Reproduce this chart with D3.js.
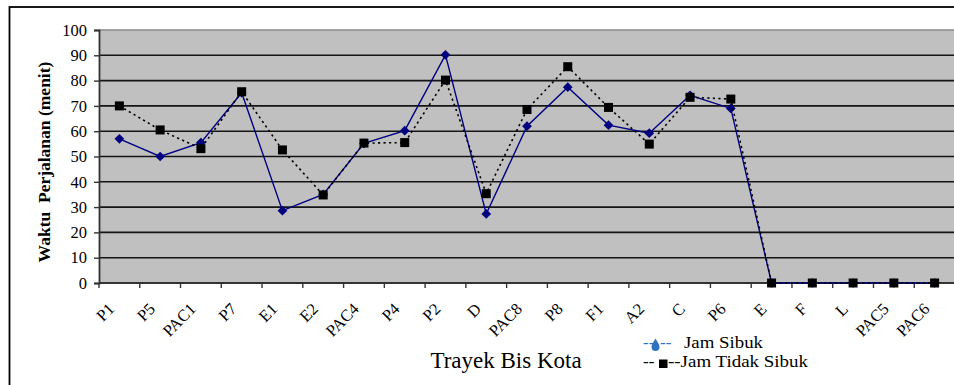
<!DOCTYPE html>
<html>
<head>
<meta charset="utf-8">
<script src="https://cdn.jsdelivr.net/npm/d3@7"></script>
<style>
  html, body { margin: 0; padding: 0; background: #fff; }
  svg { display: block; }
  text { font-family: "Liberation Serif", "Times New Roman", serif; }
</style>
</head>
<body>
<script>
const categories = ["P1","P5","PAC1","P7","E1","E2","PAC4","P4","P2","D","PAC8","P8","F1","A2","C","P6","E","F","L","PAC5","PAC6"];
const jamSibuk = [57, 50, 55.5, 75.2, 28.6, 35, 55.2, 60.2, 90.2, 27.3, 62, 77.4, 62.4, 59.2, 74.2, 69, 0, 0, 0, 0, 0];
const jamTidakSibuk = [70, 60.5, 53.1, 75.6, 52.6, 34.8, 55.3, 55.5, 80.2, 35.3, 68.6, 85.5, 69.4, 54.9, 73.4, 72.7, 0, 0, 0, 0, 0];
const yTicks = [0, 10, 20, 30, 40, 50, 60, 70, 80, 90, 100];
const seriesNames = ["Jam Sibuk", "Jam Tidak Sibuk"];
const xTitle = "Trayek Bis Kota";
const yTitle = "Waktu  Perjalanan (menit)";

const W = 954, H = 385;
const plot = { left: 99, right: 955, top: 30, bottom: 283 };

const svg = d3.select("body").append("svg").attr("width", W).attr("height", H);

// outer frame
svg.append("rect").attr("x", 9.5).attr("y", 7).attr("width", W + 20).attr("height", H + 20)
  .attr("fill", "#fff").attr("stroke", "#000").attr("stroke-width", 1.8);

const x = d3.scaleBand().domain(categories).range([plot.left, plot.right]).padding(0);
const y = d3.scaleLinear().domain([0, 100]).range([plot.bottom, plot.top]);
const cx = d => x(d) + x.bandwidth() / 2;

// plot background
svg.append("rect").attr("x", plot.left).attr("y", plot.top)
  .attr("width", plot.right - plot.left).attr("height", plot.bottom - plot.top)
  .attr("fill", "#c0c0c0");

// top border of plot
svg.append("line").attr("x1", plot.left).attr("x2", plot.right)
  .attr("y1", y(100)).attr("y2", y(100)).attr("stroke", "#8a8a8a").attr("stroke-width", 1.6);

// gridlines
svg.append("g").selectAll("line").data(yTicks.filter(t => t > 0 && t < 100)).join("line")
  .attr("x1", plot.left).attr("x2", plot.right)
  .attr("y1", d => y(d)).attr("y2", d => y(d))
  .attr("stroke", "#151515").attr("stroke-width", 1.6);

// y axis
const yAxis = d3.axisLeft(y).tickValues(yTicks).tickSize(5).tickPadding(7).tickFormat(d3.format("d"));
const gy = svg.append("g").attr("transform", `translate(${plot.left},0)`).call(yAxis);
gy.attr("font-family", null);
gy.select(".domain").attr("stroke", "#333").attr("stroke-width", 1.8);
gy.selectAll(".tick line").attr("stroke", "#333").attr("stroke-width", 1.4);
gy.selectAll(".tick text").attr("font-size", 16.5).attr("fill", "#000");

// x axis: ticks at category boundaries
const boundaries = categories.map(c => x(c)).concat([plot.right]);
svg.append("line").attr("x1", plot.left).attr("x2", plot.right)
  .attr("y1", plot.bottom).attr("y2", plot.bottom).attr("stroke", "#333").attr("stroke-width", 1.8);
svg.append("g").selectAll("line").data(boundaries).join("line")
  .attr("x1", d => d).attr("x2", d => d).attr("y1", plot.bottom).attr("y2", plot.bottom + 5)
  .attr("stroke", "#333").attr("stroke-width", 1.4);

// category labels rotated -45deg, anchored at their end
const labelY = plot.bottom + 27;
const xl = svg.append("g").selectAll("g").data(categories).join("g")
  .attr("transform", d => `translate(${cx(d) - 4},${labelY})`);
xl.append("text")
  .attr("transform", "rotate(-45)")
  .attr("text-anchor", "end")
  .attr("font-size", 16.5)
  .attr("fill", "#000")
  .text(d => d);

// series lines
const line = d3.line().x((d, i) => cx(categories[i])).y(d => y(d));

svg.append("path").datum(jamSibuk).attr("d", line)
  .attr("fill", "none").attr("stroke", "#000080").attr("stroke-width", 1.4);

svg.append("g").selectAll("path").data(jamSibuk).join("path")
  .attr("transform", (d, i) => `translate(${cx(categories[i])},${y(d)})`)
  .attr("d", d3.symbol(d3.symbolDiamond2, 60)())
  .attr("fill", "#000080");

svg.append("path").datum(jamTidakSibuk).attr("d", line)
  .attr("fill", "none").attr("stroke", "#000").attr("stroke-width", 1.6)
  .attr("stroke-dasharray", "2.2,3.3");

svg.append("g").selectAll("rect").data(jamTidakSibuk).join("rect")
  .attr("x", (d, i) => cx(categories[i]) - 4.5)
  .attr("y", d => y(d) - 4.5)
  .attr("width", 9).attr("height", 9)
  .attr("fill", "#000");

// axis titles
svg.append("text").attr("x", 506).attr("y", 368).attr("text-anchor", "middle")
  .attr("font-size", 23).attr("fill", "#000").text(xTitle);

svg.append("text").attr("x", 0).attr("y", 0)
  .attr("transform", "translate(50,162) rotate(-90)")
  .attr("text-anchor", "middle").attr("font-size", 17.5).attr("font-weight", "bold")
  .attr("fill", "#000").style("white-space", "pre").text(yTitle);

// legend
const blue = "#2f73bd";
const lg = svg.append("g").attr("font-size", 17);
// row 1
lg.append("text").attr("x", 643).attr("y", 348).attr("fill", blue).text("--");
lg.append("path").attr("d", "M0,-6.5 C1.5,-3.5 4,-1 4,2 A4,4 0 1 1 -4,2 C-4,-1 -1.5,-3.5 0,-6.5 Z")
  .attr("transform", "translate(655.5,345)").attr("fill", blue);
lg.append("text").attr("x", 660).attr("y", 348).attr("fill", blue).text("--");
lg.append("text").attr("x", 684).attr("y", 348).attr("fill", "#000")
  .attr("textLength", 79).attr("lengthAdjust", "spacingAndGlyphs").text(seriesNames[0]);
// row 2
lg.append("text").attr("x", 643).attr("y", 367).attr("fill", "#000").text("--");
lg.append("rect").attr("x", 659).attr("y", 359.5).attr("width", 8.5).attr("height", 8.5).attr("fill", "#000");
lg.append("text").attr("x", 668).attr("y", 367).attr("fill", "#000")
  .attr("textLength", 140).attr("lengthAdjust", "spacingAndGlyphs").text("--" + seriesNames[1]);
</script>
</body>
</html>
